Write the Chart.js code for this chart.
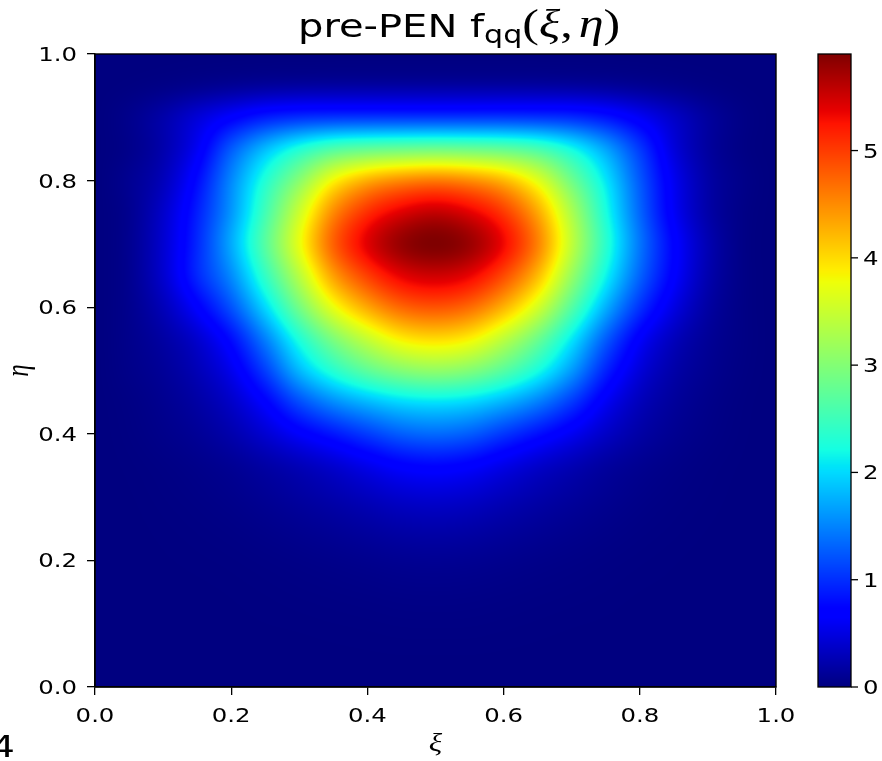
<!DOCTYPE html>
<html>
<head>
<meta charset="utf-8">
<script src="https://cdn.jsdelivr.net/npm/chart.js@4.4.1/dist/chart.umd.min.js"></script>
<style>
  html, body { margin: 0; padding: 0; background: #fff; }
  #chart { display: block; }
</style>
</head>
<body>
<canvas id="chart" width="882" height="761"></canvas>
<script>
// grid nodes (every 0.05 in xi and eta)
const xiValues = [0, 0.05, 0.1, 0.15, 0.2, 0.25, 0.3, 0.35, 0.4, 0.45, 0.5,
                  0.55, 0.6, 0.65, 0.7, 0.75, 0.8, 0.85, 0.9, 0.95, 1.0];
const etaValues = [0, 0.05, 0.1, 0.15, 0.2, 0.25, 0.3, 0.35, 0.4, 0.45, 0.5,
                   0.55, 0.6, 0.65, 0.7, 0.75, 0.8, 0.85, 0.9, 0.95, 1.0];

// f_qq(xi, eta), one row per eta value, columns follow xiValues
const row000 = [0, 0, 0, 0, 0, 0, 0, 0, 0, 0, 0, 0, 0, 0, 0, 0, 0, 0, 0, 0, 0];
const row005 = [0, 0, 0, 0, 0.001, 0.001, 0.002, 0.003, 0.004, 0.005, 0.005, 0.005, 0.004, 0.003, 0.002, 0.001, 0.001, 0, 0, 0, 0];
const row010 = [0, 0, 0.001, 0.001, 0.003, 0.005, 0.007, 0.01, 0.013, 0.017, 0.018, 0.017, 0.013, 0.009, 0.006, 0.004, 0.002, 0.001, 0, 0, 0];
const row015 = [0, 0, 0.002, 0.003, 0.006, 0.011, 0.018, 0.025, 0.033, 0.042, 0.045, 0.041, 0.032, 0.023, 0.016, 0.01, 0.005, 0.003, 0.001, 0, 0];
const row020 = [0, 0.001, 0.004, 0.008, 0.014, 0.025, 0.039, 0.055, 0.074, 0.093, 0.1, 0.092, 0.072, 0.052, 0.036, 0.022, 0.012, 0.006, 0.002, 0, 0];
const row025 = [0, 0.002, 0.008, 0.017, 0.031, 0.055, 0.086, 0.121, 0.163, 0.205, 0.22, 0.202, 0.158, 0.115, 0.078, 0.048, 0.026, 0.013, 0.005, 0.001, 0];
const row030 = [0, 0.004, 0.015, 0.032, 0.059, 0.105, 0.164, 0.231, 0.311, 0.391, 0.42, 0.386, 0.301, 0.219, 0.15, 0.091, 0.049, 0.024, 0.01, 0.002, 0];
const row035 = [0, 0.008, 0.026, 0.056, 0.105, 0.19, 0.29, 0.41, 0.56, 0.7, 0.75, 0.69, 0.54, 0.39, 0.27, 0.16, 0.088, 0.044, 0.017, 0.004, 0];
const row040 = [0, 0.016, 0.054, 0.115, 0.23, 0.42, 0.65, 0.86, 1.08, 1.28, 1.35, 1.27, 1.05, 0.82, 0.59, 0.36, 0.19, 0.09, 0.036, 0.008, 0];
const row045 = [0, 0.025, 0.082, 0.185, 0.37, 0.7, 1.17, 1.54, 1.8, 1.99, 2.05, 1.98, 1.77, 1.47, 1.06, 0.6, 0.3, 0.14, 0.055, 0.012, 0];
const row050 = [0, 0.047, 0.124, 0.28, 0.56, 1.09, 1.8, 2.33, 2.73, 3.0, 3.1, 2.99, 2.68, 2.23, 1.63, 0.93, 0.46, 0.21, 0.087, 0.022, 0];
const row055 = [0, 0.06, 0.18, 0.4, 0.8, 1.48, 2.28, 2.96, 3.48, 3.88, 4.0, 3.86, 3.42, 2.84, 2.09, 1.28, 0.66, 0.31, 0.12, 0.03, 0];
const row060 = [0, 0.073, 0.29, 0.68, 1.21, 1.99, 2.89, 3.73, 4.32, 4.73, 4.85, 4.7, 4.25, 3.58, 2.67, 1.76, 1.02, 0.51, 0.18, 0.034, 0];
const row065 = [0, 0.083, 0.4, 0.95, 1.54, 2.42, 3.38, 4.37, 4.98, 5.38, 5.5, 5.36, 4.91, 4.2, 3.15, 2.16, 1.31, 0.68, 0.24, 0.04, 0];
const row070 = [0, 0.086, 0.41, 0.96, 1.72, 2.68, 3.72, 4.76, 5.4, 5.78, 5.9, 5.76, 5.32, 4.56, 3.44, 2.36, 1.42, 0.72, 0.26, 0.04, 0];
const row075 = [0, 0.083, 0.38, 0.9, 1.61, 2.53, 3.52, 4.5, 5.08, 5.41, 5.55, 5.39, 5.01, 4.32, 3.29, 2.25, 1.33, 0.62, 0.21, 0.04, 0];
const row080 = [0, 0.092, 0.3, 0.78, 1.52, 2.3, 3.04, 3.82, 4.28, 4.51, 4.6, 4.49, 4.22, 3.68, 2.86, 2.07, 1.25, 0.58, 0.2, 0.05, 0];
const row085 = [0, 0.057, 0.23, 0.6, 1.25, 1.82, 2.28, 2.62, 2.76, 2.82, 2.85, 2.82, 2.75, 2.57, 2.19, 1.68, 1.06, 0.47, 0.16, 0.03, 0];
const row090 = [0, 0.063, 0.21, 0.44, 0.68, 0.89, 1.0, 1.04, 1.05, 1.05, 1.05, 1.05, 1.05, 1.03, 0.98, 0.84, 0.61, 0.36, 0.15, 0.035, 0];
const row095 = [0, 0.011, 0.036, 0.076, 0.117, 0.153, 0.171, 0.178, 0.18, 0.18, 0.18, 0.18, 0.18, 0.177, 0.167, 0.144, 0.105, 0.062, 0.026, 0.006, 0];
const row100 = [0, 0, 0, 0, 0, 0, 0, 0, 0, 0, 0, 0, 0, 0, 0, 0, 0, 0, 0, 0, 0];

const fRows = [row000, row005, row010, row015, row020, row025, row030, row035, row040, row045, row050,
               row055, row060, row065, row070, row075, row080, row085, row090, row095, row100];

const axisTicks = [0, 0.2, 0.4, 0.6, 0.8, 1.0];
const axisTickLabels = ['0.0', '0.2', '0.4', '0.6', '0.8', '1.0'];
const colorbarTicks = [0, 1, 2, 3, 4, 5];
const colorbarTickLabels = ['0', '1', '2', '3', '4', '5'];

// the picture is a bit wider than tall compared to normal glyphs
const STRETCH = 1.25;
const SANS = "'DejaVu Sans'";
const SERIF = "'Liberation Serif'";

var vMax = Math.max.apply(null, fRows.map(function (r) { return Math.max.apply(null, r); }));

// matplotlib jet
var JET_R = [[0, 0], [0.35, 0], [0.66, 1], [0.89, 1], [1, 0.5]];
var JET_G = [[0, 0], [0.125, 0], [0.375, 1], [0.64, 1], [0.91, 0], [1, 0]];
var JET_B = [[0, 0.5], [0.11, 1], [0.34, 1], [0.65, 0], [1, 0]];

function interp(stops, t) {
    for (var i = 1; i < stops.length; i++) {
        if (t <= stops[i][0]) {
            var t0 = stops[i - 1][0], v0 = stops[i - 1][1];
            var t1 = stops[i][0], v1 = stops[i][1];
            return v0 + (v1 - v0) * (t - t0) / (t1 - t0);
        }
    }
    return stops[stops.length - 1][1];
}

function jet(v) {
    var t = Math.min(1, Math.max(0, v / vMax));
    return [interp(JET_R, t) * 255, interp(JET_G, t) * 255, interp(JET_B, t) * 255];
}

// bicubic (catmull-rom) shading between grid nodes, like imshow(interpolation='bicubic')
function cubic(p0, p1, p2, p3, t) {
    return p1 + 0.5 * t * (p2 - p0 + t * (2 * p0 - 5 * p1 + 4 * p2 - p3 + t * (3 * (p1 - p2) + p3 - p0)));
}

function clampIdx(i, n) {
    return i < 0 ? 0 : (i > n - 1 ? n - 1 : i);
}

function drawText(ctx, text, x, y, font, align, baseline, rotate) {
    ctx.save();
    ctx.font = font;
    ctx.fillStyle = '#000';
    ctx.textAlign = align;
    ctx.textBaseline = baseline;
    ctx.translate(x, y);
    ctx.scale(STRETCH, 1);
    if (rotate) ctx.rotate(-Math.PI / 2);
    ctx.fillText(text, 0, 0);
    ctx.restore();
}

// points for the scatter dataset, one per grid node
var gridPoints = [];
etaValues.forEach(function (eta, j) {
    xiValues.forEach(function (xi, i) {
        gridPoints.push({x: xi, y: eta, v: fRows[j][i]});
    });
});

var heatmapPlugin = {
    id: 'heatmap',
    beforeDatasetsDraw: function (chart) {
        var ctx = chart.ctx, area = chart.chartArea;
        var xs = chart.scales.x, ys = chart.scales.y;
        var nx = xiValues.length, ny = etaValues.length;

        // node values as stored in the dataset
        var grid = [];
        chart.data.datasets[0].data.forEach(function (p, k) {
            var j = Math.floor(k / nx);
            if (!grid[j]) grid[j] = [];
            grid[j][k % nx] = p.v;
        });

        var w = Math.round(area.right - area.left), h = Math.round(area.bottom - area.top);
        var off = document.createElement('canvas');
        off.width = w;
        off.height = h;
        var octx = off.getContext('2d');
        var img = octx.createImageData(w, h);
        var dXi = xiValues[1] - xiValues[0], dEta = etaValues[1] - etaValues[0];

        for (var py = 0; py < h; py++) {
            var eta = ys.getValueForPixel(area.top + py + 0.5);
            var gv = Math.min(ny - 1, Math.max(0, (eta - etaValues[0]) / dEta));
            var j = Math.min(ny - 2, Math.floor(gv)), tv = gv - j;
            for (var px = 0; px < w; px++) {
                var xi = xs.getValueForPixel(area.left + px + 0.5);
                var gu = Math.min(nx - 1, Math.max(0, (xi - xiValues[0]) / dXi));
                var i = Math.min(nx - 2, Math.floor(gu)), tu = gu - i;
                var col = [];
                for (var m = -1; m <= 2; m++) {
                    var r = grid[clampIdx(j + m, ny)];
                    col.push(cubic(r[clampIdx(i - 1, nx)], r[clampIdx(i, nx)],
                                   r[clampIdx(i + 1, nx)], r[clampIdx(i + 2, nx)], tu));
                }
                var v = Math.max(0, cubic(col[0], col[1], col[2], col[3], tv));
                var c = jet(v);
                var o = (py * w + px) * 4;
                img.data[o] = c[0];
                img.data[o + 1] = c[1];
                img.data[o + 2] = c[2];
                img.data[o + 3] = 255;
            }
        }
        octx.putImageData(img, 0, 0);
        ctx.drawImage(off, area.left, area.top);
    },
    afterDatasetsDraw: function (chart) {
        var ctx = chart.ctx, area = chart.chartArea;
        var xs = chart.scales.x, ys = chart.scales.y, cb = chart.scales.cb;

        ctx.save();
        ctx.strokeStyle = '#000';
        ctx.lineWidth = 1.4;
        ctx.strokeRect(area.left, area.top, area.right - area.left, area.bottom - area.top);
        ctx.restore();

        // tick labels
        axisTicks.forEach(function (v, i) {
            drawText(ctx, axisTickLabels[i], xs.getPixelForValue(v), 722, '19.5px ' + SANS, 'center', 'alphabetic');
            drawText(ctx, axisTickLabels[i], 77, ys.getPixelForValue(v) + 7, '19.5px ' + SANS, 'right', 'alphabetic');
        });

        // colorbar
        var cbLeft = 818, cbRight = 851;
        var cbTop = cb.getPixelForValue(vMax), cbBottom = cb.getPixelForValue(0);
        for (var y = Math.floor(cbTop); y < cbBottom; y++) {
            var c = jet(cb.getValueForPixel(y + 0.5));
            ctx.fillStyle = 'rgb(' + c[0] + ',' + c[1] + ',' + c[2] + ')';
            ctx.fillRect(cbLeft, Math.max(y, cbTop), cbRight - cbLeft, 1);
        }
        ctx.save();
        ctx.strokeStyle = '#000';
        ctx.lineWidth = 1.3;
        ctx.strokeRect(cbLeft, cbTop, cbRight - cbLeft, cbBottom - cbTop);
        colorbarTicks.forEach(function (v, i) {
            var py = cb.getPixelForValue(v);
            ctx.beginPath();
            ctx.moveTo(cbRight, py);
            ctx.lineTo(cbRight + 7, py);
            ctx.stroke();
            drawText(ctx, colorbarTickLabels[i], 863, py + 7, '19.5px ' + SANS, 'left', 'alphabetic');
        });
        ctx.restore();

        // title: pre-PEN f_qq(xi, eta)
        var parts = [
            {text: 'pre-PEN f', font: '32px ' + SANS, dy: 0, gap: 0},
            {text: 'qq', font: '24px ' + SANS, dy: 6, gap: 0},
            {text: '(', font: '40px ' + SERIF, dy: 0, gap: 0},
            {text: 'ξ', font: 'italic 40px ' + SERIF, dy: 0, gap: 0},
            {text: ',', font: '40px ' + SERIF, dy: 0, gap: 6},
            {text: 'η', font: 'italic 40px ' + SERIF, dy: 0, gap: 0},
            {text: ')', font: '40px ' + SERIF, dy: 0, gap: 0}
        ];
        var x = 298;
        parts.forEach(function (p) {
            drawText(ctx, p.text, x, 37 + p.dy, p.font, 'left', 'alphabetic');
            ctx.font = p.font;
            x += ctx.measureText(p.text).width * STRETCH + p.gap;
        });

        // axis labels
        drawText(ctx, 'ξ', (area.left + area.right) / 2, 751, 'italic 25px ' + SERIF, 'center', 'alphabetic');
        drawText(ctx, 'η', 28, (area.top + area.bottom) / 2, 'italic 25px ' + SERIF, 'center', 'alphabetic', true);

        // stray clipped label at the bottom left corner
        drawText(ctx, '4', -9, 757, '30px ' + SANS, 'left', 'alphabetic');
    }
};

var axisStyle = {
    type: 'linear',
    min: 0,
    max: 1,
    afterBuildTicks: function (scale) {
        scale.ticks = axisTicks.map(function (v) { return {value: v}; });
    },
    ticks: {display: false},
    grid: {drawOnChartArea: false, drawTicks: true, tickLength: 8, color: '#000', lineWidth: 1.3},
    border: {display: true, color: '#000', width: 1.4, z: 1}
};

new Chart(document.getElementById('chart'), {
    type: 'scatter',
    data: {
        datasets: [{
            label: 'f_qq',
            data: gridPoints,
            pointRadius: 0,
            pointHoverRadius: 0
        }]
    },
    options: {
        responsive: false,
        animation: false,
        events: [],
        layout: {padding: {left: 87, right: 106, top: 54, bottom: 66}},
        plugins: {legend: {display: false}, tooltip: {enabled: false}, title: {display: false}},
        scales: {
            x: Object.assign({}, axisStyle, {
                position: 'bottom',
                afterFit: function (scale) { scale.height = 8; }
            }),
            y: Object.assign({}, axisStyle, {
                position: 'left',
                afterFit: function (scale) { scale.width = 8; }
            }),
            cb: {type: 'linear', axis: 'y', display: false, min: 0, max: vMax}
        }
    },
    plugins: [heatmapPlugin]
});
</script>
</body>
</html>
